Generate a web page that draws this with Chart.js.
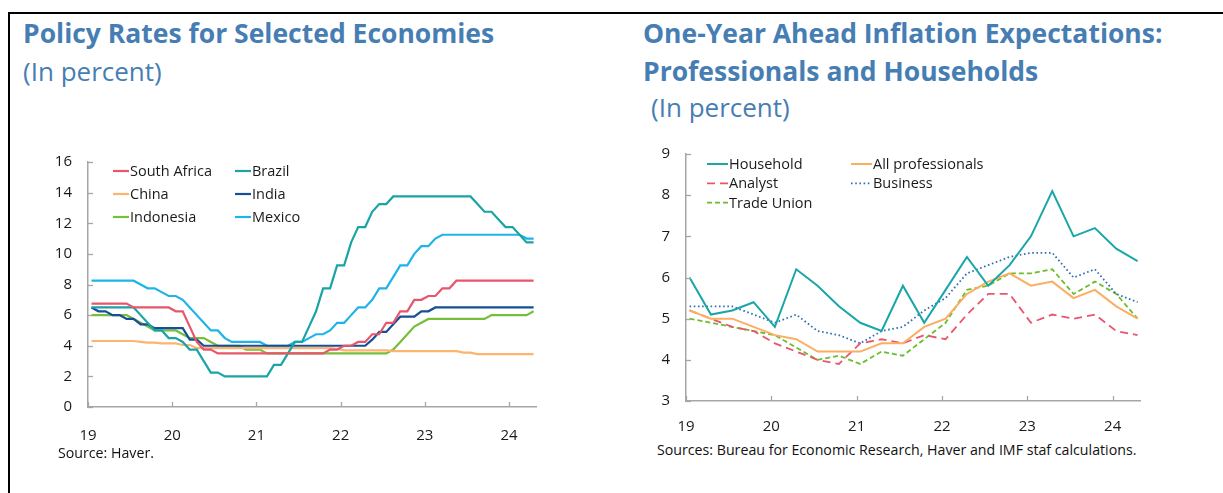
<!DOCTYPE html>
<html>
<head>
<meta charset="utf-8">
<script src="https://cdn.jsdelivr.net/npm/chart.js@4.4.1/dist/chart.umd.min.js"></script>
<style>
  html, body { margin: 0; padding: 0; background: #fff; }
  body { width: 1223px; height: 493px; position: relative; overflow: hidden; font-family: "Open Sans", sans-serif; }
  .frame { position: absolute; left: 8px; top: 12px; right: 0; bottom: -5px; border-top: 2px solid #000; border-left: 2px solid #000; }
  .title { position: absolute; color: #467eb3; font-weight: 700; font-size: 26.5px; line-height: 26.5px; white-space: nowrap; }
  .sub { position: absolute; color: #467eb3; font-size: 26px; line-height: 26px; white-space: nowrap; }
  .wrap { position: absolute; }
  .source { position: absolute; color: #111; font-size: 14.2px; line-height: 14px; white-space: nowrap; }
</style>
</head>
<body>
<div class="frame"></div>

<div class="title" style="left:23px; top:20px;">Policy Rates for Selected Economies</div>
<div class="sub" style="left:23px; top:58px;">(In percent)</div>
<div class="wrap" style="left:30px; top:137px; width:515px; height:313px;"><canvas id="policyChart"></canvas></div>
<div class="source" style="left:58px; top:446px;">Source: Haver.</div>

<div class="title" style="left:643px; top:20px;">One-Year Ahead Inflation Expectations:</div>
<div class="title" style="left:643px; top:58px;">Professionals and Households</div>
<div class="sub" style="left:651px; top:94px;">(In percent)</div>
<div class="wrap" style="left:630px; top:129px; width:520px; height:311px;"><canvas id="inflationChart"></canvas></div>
<div class="source" style="left:657px; top:443px;">Sources: Bureau for Economic Research, Haver and IMF staf calculations.</div>

<script>
// policy rates, month-end, Jan 2019 - Apr 2024
const policyStart = 2019;
const southAfrica = [6.75, 6.75, 6.75, 6.75, 6.75, 6.75, 6.5, 6.5, 6.5, 6.5, 6.5, 6.5,
  6.25, 6.25, 5.25, 4.25, 3.75, 3.75, 3.5, 3.5, 3.5, 3.5, 3.5, 3.5,
  3.5, 3.5, 3.5, 3.5, 3.5, 3.5, 3.5, 3.5, 3.5, 3.5, 3.75, 3.75,
  4.0, 4.0, 4.25, 4.25, 4.75, 4.75, 5.5, 5.5, 6.25, 6.25, 7.0, 7.0,
  7.25, 7.25, 7.75, 7.75, 8.25, 8.25, 8.25, 8.25, 8.25, 8.25, 8.25, 8.25,
  8.25, 8.25, 8.25, 8.25];
const brazil = [6.5, 6.5, 6.5, 6.5, 6.5, 6.5, 6.5, 6.0, 5.5, 5.0, 5.0, 4.5,
  4.5, 4.25, 3.75, 3.75, 3.0, 2.25, 2.25, 2.0, 2.0, 2.0, 2.0, 2.0,
  2.0, 2.0, 2.75, 2.75, 3.5, 4.25, 4.25, 5.25, 6.25, 7.75, 7.75, 9.25,
  9.25, 10.75, 11.75, 11.75, 12.75, 13.25, 13.25, 13.75, 13.75, 13.75, 13.75, 13.75,
  13.75, 13.75, 13.75, 13.75, 13.75, 13.75, 13.75, 13.25, 12.75, 12.75, 12.25, 11.75,
  11.75, 11.25, 10.75, 10.75];
const china = [4.31, 4.31, 4.31, 4.31, 4.31, 4.31, 4.31, 4.25, 4.2, 4.2, 4.15, 4.15,
  4.15, 4.05, 4.05, 3.85, 3.85, 3.85, 3.85, 3.85, 3.85, 3.85, 3.85, 3.85,
  3.85, 3.85, 3.85, 3.85, 3.85, 3.85, 3.85, 3.85, 3.85, 3.85, 3.85, 3.8,
  3.7, 3.7, 3.7, 3.7, 3.7, 3.7, 3.7, 3.65, 3.65, 3.65, 3.65, 3.65,
  3.65, 3.65, 3.65, 3.65, 3.65, 3.55, 3.55, 3.45, 3.45, 3.45, 3.45, 3.45,
  3.45, 3.45, 3.45, 3.45];
const india = [6.5, 6.25, 6.25, 6.0, 6.0, 5.75, 5.75, 5.4, 5.4, 5.15, 5.15, 5.15,
  5.15, 5.15, 4.4, 4.4, 4.0, 4.0, 4.0, 4.0, 4.0, 4.0, 4.0, 4.0,
  4.0, 4.0, 4.0, 4.0, 4.0, 4.0, 4.0, 4.0, 4.0, 4.0, 4.0, 4.0,
  4.0, 4.0, 4.0, 4.0, 4.4, 4.9, 4.9, 5.4, 5.9, 5.9, 5.9, 6.25,
  6.25, 6.5, 6.5, 6.5, 6.5, 6.5, 6.5, 6.5, 6.5, 6.5, 6.5, 6.5,
  6.5, 6.5, 6.5, 6.5];
const indonesia = [6.0, 6.0, 6.0, 6.0, 6.0, 6.0, 5.75, 5.5, 5.25, 5.0, 5.0, 5.0,
  5.0, 4.75, 4.5, 4.5, 4.5, 4.25, 4.0, 4.0, 4.0, 4.0, 3.75, 3.75,
  3.75, 3.5, 3.5, 3.5, 3.5, 3.5, 3.5, 3.5, 3.5, 3.5, 3.5, 3.5,
  3.5, 3.5, 3.5, 3.5, 3.5, 3.5, 3.5, 3.75, 4.25, 4.75, 5.25, 5.5,
  5.75, 5.75, 5.75, 5.75, 5.75, 5.75, 5.75, 5.75, 5.75, 6.0, 6.0, 6.0,
  6.0, 6.0, 6.0, 6.25];
const mexico = [8.25, 8.25, 8.25, 8.25, 8.25, 8.25, 8.25, 8.0, 7.75, 7.75, 7.5, 7.25,
  7.25, 7.0, 6.5, 6.0, 5.5, 5.0, 5.0, 4.5, 4.25, 4.25, 4.25, 4.25,
  4.25, 4.0, 4.0, 4.0, 4.0, 4.25, 4.25, 4.5, 4.75, 4.75, 5.0, 5.5,
  5.5, 6.0, 6.5, 6.5, 7.0, 7.75, 7.75, 8.5, 9.25, 9.25, 10.0, 10.5,
  10.5, 11.0, 11.25, 11.25, 11.25, 11.25, 11.25, 11.25, 11.25, 11.25, 11.25, 11.25,
  11.25, 11.25, 11.0, 11.0];

// one-year ahead inflation expectations, quarterly, 2019Q1 - 2024Q2
const quarters = ['2019Q1', '2019Q2', '2019Q3', '2019Q4', '2020Q1', '2020Q2', '2020Q3', '2020Q4',
  '2021Q1', '2021Q2', '2021Q3', '2021Q4', '2022Q1', '2022Q2', '2022Q3', '2022Q4',
  '2023Q1', '2023Q2', '2023Q3', '2023Q4', '2024Q1', '2024Q2'];
const household = [6.0, 5.1, 5.2, 5.4, 4.8, 6.2, 5.8, 5.3, 4.9, 4.7, 5.8, 4.9, 5.7, 6.5, 5.8, 6.3, 7.0, 8.1, 7.0, 7.2, 6.7, 6.4];
const allProfessionals = [5.2, 5.0, 5.0, 4.8, 4.6, 4.5, 4.2, 4.2, 4.2, 4.4, 4.4, 4.8, 5.0, 5.6, 5.9, 6.1, 5.8, 5.9, 5.5, 5.7, 5.3, 5.0];
const analyst = [5.2, 5.0, 4.8, 4.7, 4.4, 4.2, 4.0, 3.9, 4.4, 4.5, 4.4, 4.6, 4.5, 5.1, 5.6, 5.6, 4.9, 5.1, 5.0, 5.1, 4.7, 4.6];
const business = [5.3, 5.3, 5.3, 5.1, 4.9, 5.1, 4.7, 4.6, 4.4, 4.7, 4.8, 5.2, 5.5, 6.1, 6.3, 6.5, 6.6, 6.6, 6.0, 6.2, 5.6, 5.4];
const tradeUnion = [5.0, 4.9, 4.8, 4.7, 4.6, 4.3, 4.0, 4.1, 3.9, 4.2, 4.1, 4.5, 4.9, 5.7, 5.8, 6.1, 6.1, 6.2, 5.6, 5.9, 5.6, 5.0];

const yearTicks = ['19', '20', '21', '22', '23', '24'];

const axisColor = '#a6a6a6';
const textColor = '#1a1a1a';
const fontFamily = '"Open Sans", sans-serif';

// month i of the series sits mid-month on a two-digit year axis
function monthPoints(values) {
  return values.map((v, i) => ({ x: (policyStart - 2000) + (i + 0.5) / 12, y: v }));
}

function quarterPoints(values) {
  return values.map((v, i) => {
    const year = parseInt(quarters[i].slice(2, 4), 10);
    const q = parseInt(quarters[i].slice(5), 10);
    return { x: year + ((q - 1) * 3 + 0.5) / 12, y: v };
  });
}

// short tick marks pointing into the plot
const inwardTicks = {
  id: 'inwardTicks',
  afterDatasetsDraw(chart) {
    const { ctx, chartArea, scales } = chart;
    ctx.save();
    ctx.strokeStyle = axisColor;
    ctx.lineWidth = 1.3;
    scales.x.ticks.forEach(t => {
      const px = Math.round(scales.x.getPixelForValue(t.value)) + 0.5;
      ctx.beginPath();
      ctx.moveTo(px, chartArea.bottom);
      ctx.lineTo(px, chartArea.bottom - 5);
      ctx.stroke();
    });
    scales.y.ticks.forEach(t => {
      const py = Math.round(scales.y.getPixelForValue(t.value)) + 0.5;
      ctx.beginPath();
      ctx.moveTo(chartArea.left, py);
      ctx.lineTo(chartArea.left + 5, py);
      ctx.stroke();
    });
    ctx.restore();
  }
};

// two-column legend inside the plot
const gridLegend = {
  id: 'gridLegend',
  afterDraw(chart, args, opts) {
    const { ctx, chartArea } = chart;
    ctx.save();
    ctx.font = opts.font;
    ctx.fillStyle = textColor;
    ctx.textBaseline = 'middle';
    chart.data.datasets.forEach((ds, i) => {
      const col = i % 2;
      const row = Math.floor(i / 2);
      const x = chartArea.left + opts.left + col * opts.colWidth;
      const y = chartArea.top + opts.top + row * opts.rowHeight;
      ctx.strokeStyle = ds.borderColor;
      ctx.lineWidth = ds.borderWidth;
      ctx.setLineDash(ds.borderDash || []);
      ctx.beginPath();
      ctx.moveTo(x, y);
      ctx.lineTo(x + opts.lineLen, y);
      ctx.stroke();
      ctx.setLineDash([]);
      ctx.fillText(ds.label, x + opts.lineLen + 1, y + 1);
    });
    ctx.restore();
  }
};

function line(label, points, color, extra) {
  return Object.assign({
    label: label,
    data: points,
    borderColor: color,
    backgroundColor: color,
    borderWidth: 2.2,
    pointRadius: 0,
    tension: 0,
    fill: false
  }, extra || {});
}

function axes(yMin, yMax, yStep, yWidth, xHeight, xPad) {
  return {
    x: {
      type: 'linear',
      min: 19,
      max: 24.32,
      border: { color: axisColor, width: 1.5 },
      grid: { display: true, drawOnChartArea: false, drawTicks: false },
      ticks: {
        stepSize: 1,
        includeBounds: false,
        padding: xPad,
        color: textColor,
        font: { family: fontFamily, size: 15 },
        callback: v => yearTicks[v - 19]
      },
      afterFit: s => { s.height = xHeight; }
    },
    y: {
      min: yMin,
      max: yMax,
      border: { color: axisColor, width: 1.5 },
      grid: { display: true, drawOnChartArea: false, drawTicks: false },
      ticks: {
        stepSize: yStep,
        padding: 16,
        color: textColor,
        font: { family: fontFamily, size: 15 }
      },
      afterFit: s => { s.width = yWidth; }
    }
  };
}

function createPolicyChart() {
  const ctx = document.getElementById('policyChart');
  new Chart(ctx, {
    type: 'line',
    data: {
      datasets: [
        line('South Africa', monthPoints(southAfrica), '#e8566c'),
        line('Brazil', monthPoints(brazil), '#1aa4a6'),
        line('China', monthPoints(china), '#fdb46e'),
        line('India', monthPoints(india), '#154f97'),
        line('Indonesia', monthPoints(indonesia), '#77be3b'),
        line('Mexico', monthPoints(mexico), '#1fb3ea')
      ]
    },
    options: {
      responsive: true,
      maintainAspectRatio: false,
      animation: false,
      layout: { padding: { top: 11, right: 9, left: 0, bottom: 0 } },
      scales: axes(0, 16, 2, 58, 43, 20),
      plugins: {
        legend: { display: false },
        tooltip: { enabled: false },
        gridLegend: { left: 25, top: 9, colWidth: 122, rowHeight: 23, lineLen: 16, font: '14.5px ' + fontFamily }
      }
    },
    plugins: [inwardTicks, gridLegend]
  });
}

function createInflationChart() {
  const ctx = document.getElementById('inflationChart');
  new Chart(ctx, {
    type: 'line',
    data: {
      datasets: [
        line('Household', quarterPoints(household), '#19a6a9', { borderWidth: 2 }),
        line('All professionals', quarterPoints(allProfessionals), '#fbae62', { borderWidth: 2 }),
        line('Analyst', quarterPoints(analyst), '#e8566c', { borderWidth: 1.8, borderDash: [8, 5] }),
        line('Business', quarterPoints(business), '#2f6db5', { borderWidth: 1.8, borderDash: [1.6, 2.6] }),
        line('Trade Union', quarterPoints(tradeUnion), '#6cbd2c', { borderWidth: 1.8, borderDash: [5, 3] })
      ]
    },
    options: {
      responsive: true,
      maintainAspectRatio: false,
      animation: false,
      layout: { padding: { top: 12, right: 10, left: 0, bottom: 0 } },
      scales: axes(3, 9, 1, 56, 39, 17),
      plugins: {
        legend: { display: false },
        tooltip: { enabled: false },
        gridLegend: { left: 21, top: 10, colWidth: 144, rowHeight: 19.3, lineLen: 21, font: '14.5px ' + fontFamily }
      }
    },
    plugins: [inwardTicks, gridLegend]
  });
}

createPolicyChart();
createInflationChart();
</script>
</body>
</html>
